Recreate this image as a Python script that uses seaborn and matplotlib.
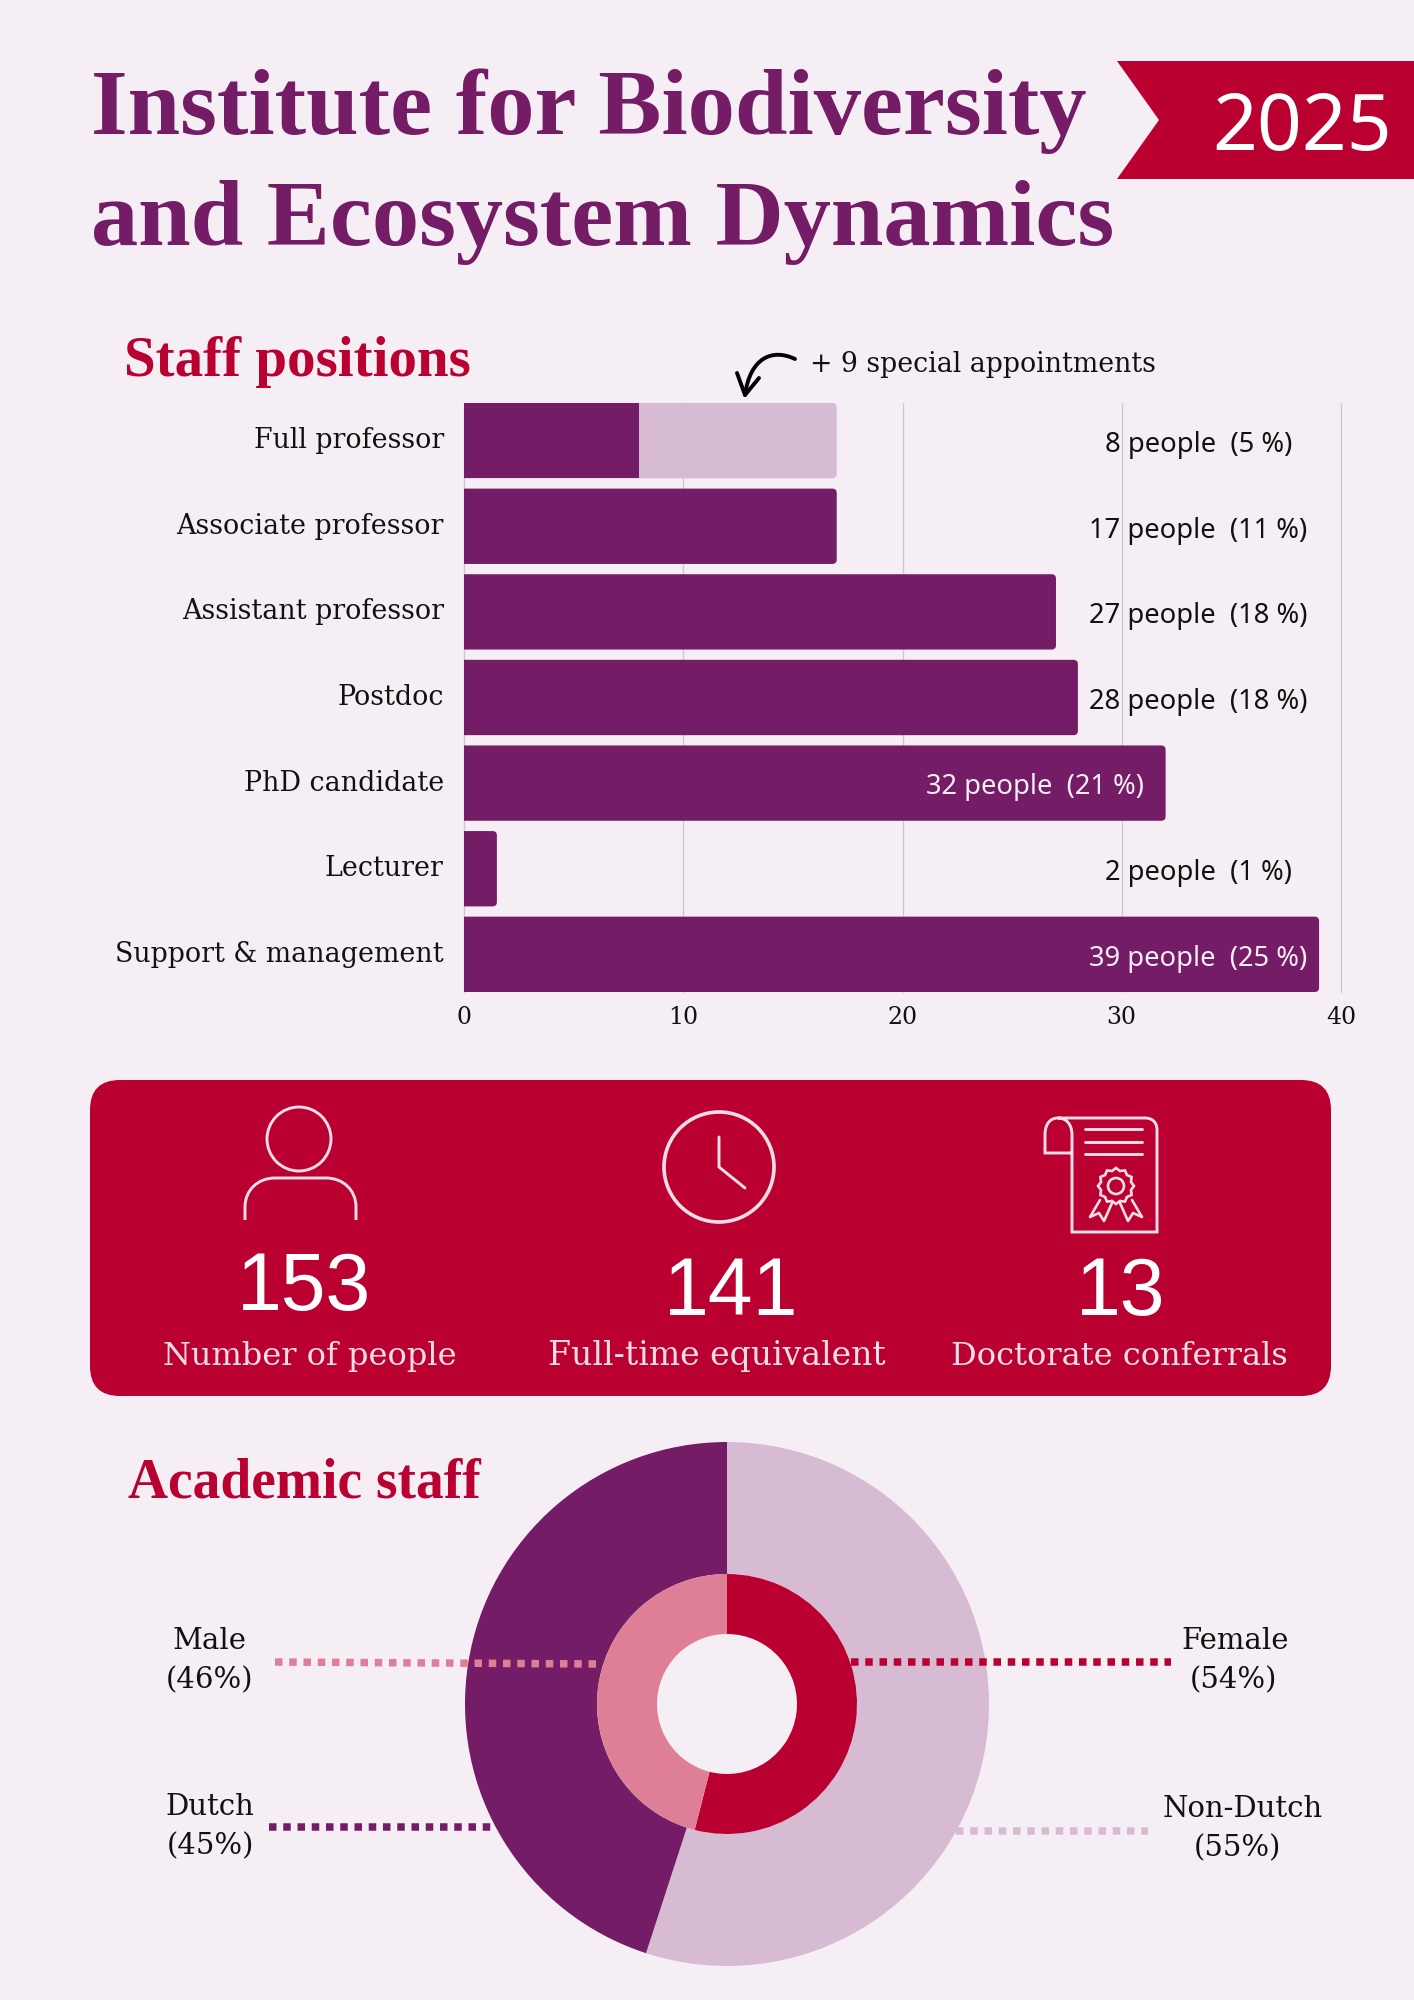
import matplotlib
matplotlib.use('Agg')
import matplotlib.pyplot as plt
import numpy as np
import pandas as pd
import seaborn as sns
from matplotlib.patches import Circle, FancyBboxPatch, PathPatch, Polygon
from matplotlib.path import Path
from matplotlib.transforms import Affine2D, ScaledTranslation

W, H = 1414, 2000

BG = '#f5eef5'
PURPLE = '#751c66'
LILAC = '#d7bbd3'
RED = '#b90030'
PINK = '#de7f97'
PALE = '#fbdde7'

SERIF = 'DejaVu Serif'
HEAD = 'Liberation Serif'
SANS = 'Noto Sans'

# staff chart
positions = ['Full professor', 'Associate professor', 'Assistant professor', 'Postdoc',
             'PhD candidate', 'Lecturer', 'Support & management']
bar_values = [8, 17, 27, 28, 32, 1.5, 39]
special_total = [17, 0, 0, 0, 0, 0, 0]
people = [8, 17, 27, 28, 32, 2, 39]
shares = [5, 11, 18, 18, 21, 1, 25]
x_ticks = [0, 10, 20, 30, 40]

# key figures
stat_numbers = ['153', '141', '13']
stat_labels = ['Number of people', 'Full-time equivalent', 'Doctorate conferrals']

# donut
origin_labels = ['Non-Dutch', 'Dutch']
origin_values = [55, 45]
gender_labels = ['Female', 'Male']
gender_values = [54, 46]


def px_axes(fig, left, top, right, bottom):
    return fig.add_axes([left / W, 1 - bottom / H, (right - left) / W, (bottom - top) / H])


def round_bars(ax, bars, bar_px_wide=877 / 40, bar_px_high=85.7):
    # seaborn gives square bars, the reference has small rounded ends on the right
    for rect, rounded in bars:
        x, y = rect.get_x(), rect.get_y()
        w, h = rect.get_width(), rect.get_height()
        if w == 0 or not rounded:
            continue
        pad = 0.6
        box = FancyBboxPatch((x - pad, y), w + pad, h,
                             boxstyle='round,pad=0,rounding_size=0.2',
                             mutation_aspect=bar_px_wide / bar_px_high,
                             fc=rect.get_facecolor(), ec='none', lw=0, zorder=rect.get_zorder())
        rect.set_visible(False)
        ax.add_patch(box)


def draw_staff(fig):
    ax = px_axes(fig, 464, 403, 1341, 992)
    ax.set_facecolor('none')
    df = pd.DataFrame({'position': positions, 'value': bar_values, 'special': special_total})

    sns.barplot(df, x='special', y='position', color=LILAC, width=0.88, saturation=1, ax=ax,
                zorder=3, linewidth=0, edgecolor='none')
    light = list(ax.patches)
    sns.barplot(df, x='value', y='position', color=PURPLE, width=0.88, saturation=1, ax=ax,
                zorder=4, linewidth=0, edgecolor='none')
    dark = list(ax.patches)[len(light):]

    round_bars(ax, [(r, True) for r in light] + [(r, v != 8) for r, v in zip(dark, bar_values)])

    ax.set_xlim(0, 40)
    ax.set_ylim(6.44, -0.44)
    ax.set_xlabel('')
    ax.set_ylabel('')
    ax.set_xticks(x_ticks)
    ax.grid(axis='x', color='#cfc6d0', lw=0.9, zorder=0)
    ax.set_axisbelow(True)
    for line in ax.get_xgridlines():
        line.set_clip_on(False)
    sns.despine(ax=ax, left=True, bottom=True)
    ax.tick_params(axis='both', length=0, labelcolor='#111111')
    ax.tick_params(axis='x', labelsize=17, pad=10)
    ax.tick_params(axis='y', labelsize=19.4, pad=14.5)
    up = ScaledTranslation(0, 3 / 100, fig.dpi_scale_trans)
    for t in ax.get_yticklabels():
        t.set_fontfamily(SERIF)
        t.set_transform(t.get_transform() + up)
    for t in ax.get_xticklabels():
        t.set_fontfamily(SERIF)

    for i, (n, s) in enumerate(zip(people, shares)):
        on_bar = bar_values[i] > 30
        xpos = 26.05 if bar_values[i] == 32 else 33.5
        ax.text(xpos, i + 0.05, f'{n} people  ({s} %)', ha='center', va='center', zorder=6,
                fontsize=19.7, family=SANS, color='#f5eef5' if on_bar else '#111111')
    return ax


def draw_donut(fig):
    cx, cy, r = 727, 1704, 262
    ax = px_axes(fig, cx - r, cy - r, cx + r, cy + r)
    ax.pie(origin_values, radius=1, startangle=90, counterclock=False, colors=[LILAC, PURPLE],
           wedgeprops=dict(width=1 - 130 / 262, linewidth=0))
    ax.pie(gender_values, radius=130 / 262, startangle=90, counterclock=False, colors=[RED, PINK],
           wedgeprops=dict(width=60 / 262, linewidth=0))
    ax.set_xlim(-1, 1)
    ax.set_ylim(-1, 1)
    ax.set_aspect('equal')
    return ax


def draw_icons(ov):
    style = dict(fc='none', ec=PALE, lw=2.1, zorder=5)
    M, L, C = Path.MOVETO, Path.LINETO, Path.CURVE4
    # person
    ov.add_patch(Circle((299, 1139), 32, **style))
    ov.add_patch(PathPatch(Path([(245, 1220), (245, 1207), (245, 1190), (258, 1178), (275, 1178), (326, 1178),
                                 (343, 1178), (356, 1190), (356, 1207), (356, 1220)],
                                [M, L, C, C, C, L, C, C, C, L]), **style))
    # clock
    ov.add_patch(Circle((719, 1167), 55, **dict(style, lw=2.6)))
    ov.plot([719, 719, 745], [1137, 1167, 1188], color=PALE, lw=2.1, zorder=5)
    # certificate
    ov.add_patch(PathPatch(Path([(1072, 1153), (1045, 1153), (1045, 1135), (1045, 1124), (1050, 1118), (1058, 1118),
                                 (1066, 1118), (1072, 1124), (1072, 1135), (1072, 1232), (1157, 1232), (1157, 1130),
                                 (1157, 1122), (1152, 1118), (1145, 1118), (1058, 1118)],
                                [M, L, L, C, C, C, C, C, C, L, L, L, C, C, C, L]), **style))
    for y in (1129, 1142, 1154):
        ov.plot([1085, 1142], [y, y], color=PALE, lw=2.1, zorder=5, solid_capstyle='round')
    star = Path.unit_regular_star(12, innerCircle=0.86).transformed(Affine2D().scale(18).translate(1116, 1186))
    ov.add_patch(PathPatch(star, **dict(style, lw=1.9)))
    ov.add_patch(Circle((1116, 1186), 8, **dict(style, lw=1.9)))
    ov.plot([1100, 1090, 1099, 1104, 1112], [1200, 1217, 1213, 1221, 1203], color=PALE, lw=1.9, zorder=5)
    ov.plot([1132, 1142, 1133, 1128, 1120], [1200, 1217, 1213, 1221, 1203], color=PALE, lw=1.9, zorder=5)


def draw_overlay(fig):
    ov = fig.add_axes([0, 0, 1, 1], zorder=-1)
    ov.set_xlim(0, W)
    ov.set_ylim(H, 0)
    ov.axis('off')

    ov.text(91, 134, 'Institute for Biodiversity', family=HEAD, weight='bold', color=PURPLE, fontsize=68)
    ov.text(91, 245, 'and Ecosystem Dynamics', family=HEAD, weight='bold', color=PURPLE, fontsize=68)
    ov.add_patch(Polygon([(1117, 61), (1414, 61), (1414, 179), (1117, 179), (1159, 120)], fc=RED, ec='none'))
    ov.text(1302, 150, '2025', family=SANS, color='white', fontsize=56.5, ha='center')

    ov.text(124, 376, 'Staff positions', family=HEAD, weight='bold', color=RED, fontsize=41)
    ov.text(128, 1498, 'Academic staff', family=HEAD, weight='bold', color=RED, fontsize=40)
    ov.text(810, 372, '+ 9 special appointments', family=SERIF, color='#111111', fontsize=19.3)

    ov.add_patch(FancyBboxPatch((120, 1110), 1181, 256, boxstyle='round,pad=30,rounding_size=30',
                                fc=RED, ec='none'))
    draw_icons(ov)
    for x, y, s in zip([304, 731, 1121], [1310, 1315, 1315], stat_numbers):
        ov.text(x, y, s, family='Liberation Sans', color='white', fontsize=58, ha='center', zorder=6)
    for x, s, size in zip([310, 717, 1119], stat_labels, [23, 23.8, 23]):
        ov.text(x, 1365, s, family=SERIF, color=PALE, fontsize=size, ha='center', zorder=6)
    return ov


def draw_front(fig):
    top = fig.add_axes([0, 0, 1, 1], zorder=10)
    top.set_xlim(0, W)
    top.set_ylim(H, 0)
    top.axis('off')
    # hand drawn arrow to the light part of the top bar
    M, C = Path.MOVETO, Path.CURVE4
    top.add_patch(PathPatch(Path([(795, 359), (772, 348), (750, 358), (745, 395)], [M, C, C, C]),
                            fc='none', ec='black', lw=2.8, capstyle='round'))
    top.plot([737, 745, 759], [373, 395, 378], color='black', lw=2.8, solid_capstyle='round',
             solid_joinstyle='round')

    dash = dict(lw=5.4, linestyle=(0, (1.0, 0.9)), dash_capstyle='butt')
    top.plot([275, 598], [1662, 1664], color=PINK, **dash)
    top.plot([851, 1171], [1662, 1662], color=RED, **dash)
    top.plot([269, 491], [1827, 1827], color=PURPLE, **dash)
    top.plot([956, 1148], [1831, 1831], color=LILAC, **dash)

    rows = [(210, 1641, 'Male', 210, 1680, f'({gender_values[1]}%)'),
            (1235, 1641, 'Female', 1233, 1680, f'({gender_values[0]}%)'),
            (210, 1807, 'Dutch', 210, 1846, f'({origin_values[1]}%)'),
            (1243, 1809, 'Non-Dutch', 1237, 1848, f'({origin_values[0]}%)')]
    for x1, y1, a, x2, y2, b in rows:
        top.text(x1, y1, a, family=SERIF, color='#111111', fontsize=21, ha='center', va='center')
        top.text(x2, y2, b, family=SERIF, color='#111111', fontsize=21, ha='center', va='center')


def main():
    sns.set_theme(style='white', rc={'figure.facecolor': BG})
    fig = plt.figure(figsize=(W / 100, H / 100), dpi=100, facecolor=BG)
    draw_overlay(fig)
    draw_staff(fig)
    draw_donut(fig)
    draw_front(fig)
    fig.savefig('out.png', dpi=100, facecolor=BG)


if __name__ == '__main__':
    main()
